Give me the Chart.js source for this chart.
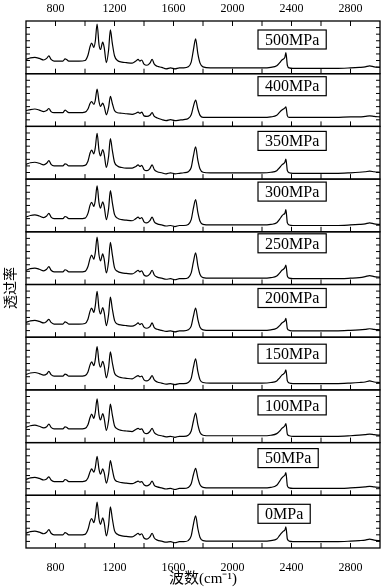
<!DOCTYPE html>
<html>
<head>
<meta charset="utf-8">
<script src="https://cdn.jsdelivr.net/npm/chart.js@4/dist/chart.umd.min.js"></script>
<style>
html,body{margin:0;padding:0;background:#fff;}
canvas{display:block;}
</style>
</head>
<body>
<canvas id="c" width="382" height="588"></canvas>
<script>
// ---- DATA ----
const wavenumbers = [600,630,660,690,720,740,755,770,790,820,850,865,875,890,920,960,1000,1020,1035,1045,1060,1070,1082,1095,1105,1120,1130,1145,1160,1172,1185,1200,1220,1250,1280,1320,1345,1360,1372,1385,1400,1420,1440,1455,1470,1490,1520,1550,1580,1610,1640,1670,1700,1720,1735,1750,1765,1780,1800,1850,1900,2000,2100,2200,2260,2300,2320,2335,2345,2355,2362,2372,2385,2410,2500,2600,2700,2800,2860,2900,2930,2960,3000];

const t500 = [27,30,31,29,26,29,34,27,24,24,24,28,27,24,24,24,25,35,52,58,50,62,94,55,46,60,50,21,45,83,58,34,25,22,21,20,24,27,24,26,18,16,20,27,18,14,12,9,11,9,11,11,13,22,45,66,38,20,13,11,11,11,11,11,12,15,21,26,28,31,40,16,11,10,10,10,10,11,12,13,15,13,12];
const t400 = [30,32,33,31,28,30,34,28,26,26,26,31,29,26,26,26,27,33,44,47,42,50,71,47,38,44,38,22,36,57,44,30,26,25,24,23,25,27,25,27,20,19,21,26,19,16,13,11,13,11,12,13,15,22,38,50,33,21,17,17,17,17,17,17,18,21,27,31,33,35,37,20,17,17,17,17,17,18,18,19,20,19,18];
const t350 = [28,31,32,30,27,30,35,28,25,25,25,29,28,25,25,25,26,34,50,55,48,60,87,54,44,56,47,22,43,77,55,32,25,22,21,21,24,27,24,26,18,16,20,27,18,14,12,10,12,10,11,12,14,22,44,61,36,19,13,12,12,12,12,12,13,16,22,27,29,32,38,16,12,11,11,11,11,12,13,14,15,14,13];
const t300 = [28,31,32,30,27,30,35,28,25,25,25,29,28,25,25,25,26,35,51,56,48,60,87,55,45,57,48,23,44,78,56,33,26,23,22,21,25,28,25,27,19,17,21,28,19,15,13,11,12,10,12,12,14,23,45,61,37,20,14,13,13,13,13,13,14,17,24,30,33,35,42,17,13,12,12,12,12,13,14,15,17,15,14];
const t250 = [27,30,31,29,26,29,34,27,24,24,24,28,27,24,24,24,25,34,50,56,48,61,90,56,45,58,48,22,44,80,57,32,25,22,21,20,24,27,24,26,18,16,20,27,18,14,12,10,11,9,11,11,13,22,43,60,36,19,13,12,12,12,12,12,13,16,22,27,29,32,37,16,12,11,11,11,11,12,13,15,17,15,14];
const t200 = [28,31,32,30,27,30,34,28,25,25,25,29,28,25,25,25,26,34,50,55,47,60,87,54,44,56,47,22,43,76,54,32,25,23,22,21,24,27,24,26,19,17,20,27,18,15,13,11,12,10,12,12,14,21,40,55,34,19,14,13,13,13,13,13,14,17,22,27,29,31,36,16,13,12,12,12,12,13,14,15,16,15,14];
const t150 = [29,32,33,31,28,30,35,29,26,26,26,30,29,26,26,26,27,34,48,53,46,58,82,52,43,54,46,23,42,72,52,32,26,23,22,21,25,27,25,26,19,17,21,27,19,15,13,11,12,10,12,12,14,22,43,59,35,19,14,13,13,13,13,13,14,17,23,28,30,33,38,17,13,12,12,12,12,13,14,15,17,15,14];
const t100 = [29,32,33,31,28,30,35,29,26,26,26,30,29,26,26,26,27,34,48,54,46,58,83,52,43,55,46,23,42,73,53,32,26,23,22,21,25,27,25,26,19,17,21,27,19,15,13,11,12,10,12,12,14,22,41,56,34,19,14,13,13,13,13,13,14,17,22,27,29,32,36,16,13,12,12,12,12,13,14,15,16,15,14];
const t50  = [30,33,34,32,29,31,35,29,26,26,26,30,29,26,26,26,27,33,45,50,44,53,74,49,40,50,43,23,40,66,49,31,26,24,23,22,25,27,25,26,20,18,21,27,19,16,14,12,13,11,13,13,15,22,39,51,33,20,15,14,14,14,14,14,15,19,27,33,36,38,43,18,14,13,13,13,13,14,15,16,17,16,15];
const t0   = [28,31,32,30,27,30,35,28,25,25,25,29,28,25,25,25,26,35,51,56,48,60,87,55,45,57,48,23,44,78,56,33,26,23,22,21,25,28,25,27,19,17,21,28,19,15,13,11,12,10,12,12,14,23,45,61,37,20,14,13,13,13,13,13,14,17,24,29,32,34,40,17,13,12,12,12,12,13,14,15,17,15,14];

const seriesList = [t500, t400, t350, t300, t250, t200, t150, t100, t50, t0];
const pressureLabels = ['500MPa','400MPa','350MPa','300MPa','250MPa','200MPa','150MPa','100MPa','50MPa','0MPa'];
const xTickLabels = [800, 1200, 1600, 2000, 2400, 2800];
const xMinorTicks = [800,1000,1200,1400,1600,1800,2000,2200,2400,2600,2800];
const yInnerTicks = [12.5,25,37.5,50,62.5,75,87.5];

// ---- LAYOUT / STYLE ----
const serif = "'Liberation Serif', 'Times New Roman', serif";
const labelBoxTop = [9,3,5,3,2,4,7,6,6,9];
const labelBoxLeft = 258;

const yIds = seriesList.map((_, i) => 'y' + i);

const datasets = seriesList.map((arr, i) => ({
  data: arr.map((v, k) => ({x: wavenumbers[k], y: v})),
  yAxisID: yIds[i],
  xAxisID: 'x',
  borderColor: '#000',
  borderWidth: 1.2,
  pointRadius: 0,
  fill: false,
  cubicInterpolationMode: 'monotone'
}));

const tickFmt = v => String(v);

const scales = {
  x: {
    type: 'linear', position: 'bottom', min: 600, max: 3000,
    afterBuildTicks: s => { s.ticks = xTickLabels.map(v => ({value: v})); },
    ticks: {color: '#000', font: {family: serif, size: 12}, padding: 13, maxRotation: 0, autoSkip: false, callback: tickFmt},
    grid: {display: false, drawTicks: false},
    border: {display: false},
    title: {display: true, text: '波数(cm⁻¹)', color: '#000', font: {family: "'Liberation Serif', 'Noto Sans CJK SC', serif", size: 15}, padding: {top: 0, bottom: 0}},
    afterFit: s => { s.height = 40; }
  },
  x2: {
    type: 'linear', position: 'top', min: 600, max: 3000,
    afterBuildTicks: s => { s.ticks = xTickLabels.map(v => ({value: v})); },
    ticks: {color: '#000', font: {family: serif, size: 12}, padding: 5, maxRotation: 0, autoSkip: false, callback: tickFmt},
    grid: {display: false, drawTicks: false},
    border: {display: false},
    afterFit: s => { s.height = 21; }
  }
};
// stacked panel axes: the last one defined is placed on top, so define in reverse
for (let i = yIds.length - 1; i >= 0; i--) {
  scales[yIds[i]] = {
    type: 'linear', position: 'left', stack: 'panels', stackWeight: 1,
    min: 0, max: 100,
    ticks: {display: false},
    grid: {display: false, drawTicks: false},
    border: {display: false},
    afterFit: s => { s.width = 26; }
  };
}

const framePlugin = {
  id: 'frames',
  afterDatasetsDraw(chart) {
    const {ctx, chartArea: ca} = chart;
    const xs = chart.scales.x;
    ctx.save();
    ctx.strokeStyle = '#000';
    const line = (x1, y1, x2, y2) => { ctx.beginPath(); ctx.moveTo(x1, y1); ctx.lineTo(x2, y2); ctx.stroke(); };
    yIds.forEach((id, i) => {
      const ys = chart.scales[id];
      const top = ys.getPixelForValue(100), bot = ys.getPixelForValue(0);
      ctx.lineWidth = 1.3;
      ctx.strokeRect(ca.left, top, ca.right - ca.left, bot - top);
      ctx.lineWidth = 1;
      xMinorTicks.forEach(v => {
        const px = xs.getPixelForValue(v);
        line(px, bot, px, bot - 5);
        if (i === 0) line(px, top, px, top + 5);
      });
      yInnerTicks.forEach(v => {
        const py = ys.getPixelForValue(v);
        line(ca.left, py, ca.left + 4, py);
        line(ca.right, py, ca.right - 4, py);
      });
      // label box
      ctx.font = '16px ' + serif;
      const txt = pressureLabels[i];
      const w = ctx.measureText(txt).width + 14;
      const bx = labelBoxLeft, by = top + labelBoxTop[i], bh = 19;
      ctx.fillStyle = '#fff';
      ctx.fillRect(bx, by, w, bh);
      ctx.lineWidth = 1.2;
      ctx.strokeRect(bx, by, w, bh);
      ctx.fillStyle = '#000';
      ctx.textBaseline = 'middle';
      ctx.textAlign = 'left';
      ctx.fillText(txt, bx + 7, by + bh / 2 + 1);
    });
    // y title
    ctx.save();
    ctx.translate(10, 288);
    ctx.rotate(-Math.PI / 2);
    ctx.font = "14px 'Noto Sans CJK SC', sans-serif";
    ctx.textAlign = 'center';
    ctx.textBaseline = 'middle';
    ctx.fillStyle = '#000';
    ctx.fillText('透过率', 0, 0);
    ctx.restore();
    ctx.restore();
  }
};

new Chart(document.getElementById('c'), {
  type: 'line',
  data: {datasets},
  options: {
    responsive: false,
    animation: false,
    devicePixelRatio: 1,
    layout: {padding: {left: 0, right: 2, top: 0, bottom: 0}},
    plugins: {legend: {display: false}, tooltip: {enabled: false}},
    scales
  },
  plugins: [framePlugin]
});
</script>
</body>
</html>
